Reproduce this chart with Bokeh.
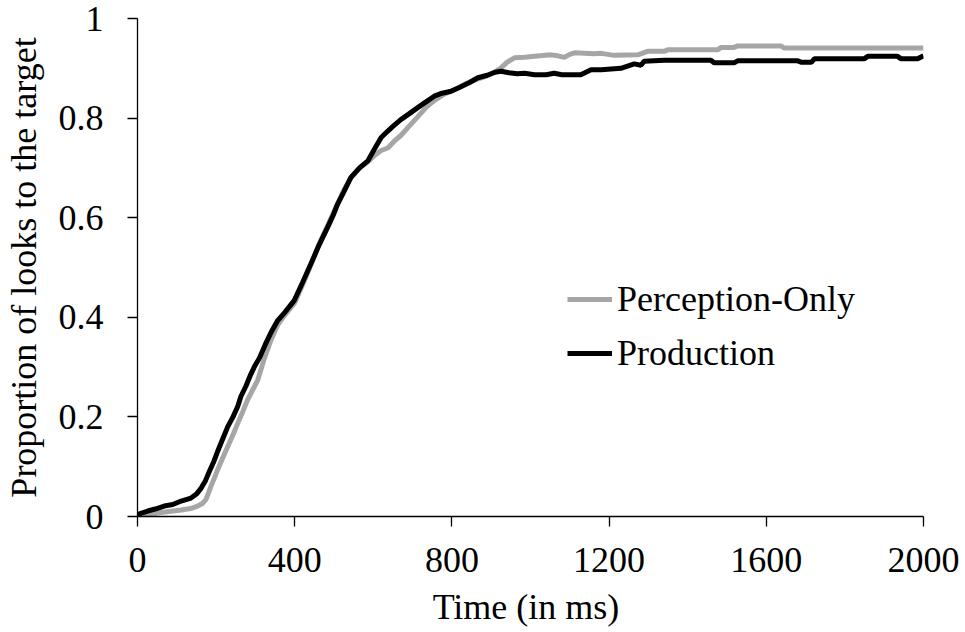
from bokeh.plotting import figure
from bokeh.models import Range1d, FixedTicker, CustomJSTickFormatter, Legend, LegendItem
from bokeh.embed import file_html
from bokeh.resources import INLINE

# Production (black)
prod_t = [0, 26, 45, 68, 90, 111, 136, 150, 162, 173, 183, 194, 204, 217, 230, 243, 255, 263, 276, 288,
          297, 310, 325, 340, 357, 375, 399, 420, 441, 462, 484, 498, 509, 525, 543, 565, 586, 603, 620, 637,
          652, 670, 690, 713, 735, 755, 775, 798, 820, 844, 866, 890, 910, 925, 945, 967, 985, 1010, 1040, 1060,
          1080, 1128, 1154, 1180, 1230, 1264, 1281, 1289, 1340, 1459, 1467, 1518, 1527, 1680, 1690, 1715, 1722,
          1849, 1858, 1934, 1943, 1985, 2000]
prod_v = [0.004, 0.011, 0.015, 0.021, 0.024, 0.031, 0.037, 0.045, 0.057, 0.072, 0.091, 0.110, 0.131, 0.156,
          0.181, 0.200, 0.221, 0.241, 0.262, 0.285, 0.300, 0.318, 0.345, 0.370, 0.394, 0.410, 0.434, 0.470,
          0.507, 0.545, 0.581, 0.605, 0.627, 0.652, 0.681, 0.700, 0.714, 0.738, 0.761, 0.774, 0.785, 0.797,
          0.808, 0.821, 0.833, 0.844, 0.850, 0.854, 0.862, 0.871, 0.881, 0.886, 0.892, 0.894, 0.891, 0.889,
          0.890, 0.887, 0.887, 0.890, 0.887, 0.887, 0.897, 0.897, 0.900, 0.909, 0.906, 0.914, 0.916, 0.916,
          0.911, 0.911, 0.915, 0.915, 0.912, 0.912, 0.919, 0.919, 0.924, 0.924, 0.919, 0.919, 0.925]

# Perception-Only (gray)
perc_t = [0, 30, 51, 80, 111, 135, 153, 165, 174, 181, 187, 196, 204, 217, 230, 243, 255, 268, 280, 293,
          306, 323, 340, 357, 375, 399, 420, 441, 462, 484, 509, 525, 543, 565, 586, 603, 620, 637, 655, 670,
          688, 710, 735, 755, 780, 800, 820, 840, 865, 890, 910, 925, 940, 959, 985, 1010, 1052, 1070, 1086,
          1100, 1112, 1162, 1180, 1213, 1273, 1298, 1340, 1349, 1476, 1485, 1518, 1527, 1637, 1645, 2000]
perc_v = [0.002, 0.004, 0.007, 0.010, 0.013, 0.016, 0.021, 0.026, 0.034, 0.048, 0.061, 0.078, 0.094, 0.118,
          0.141, 0.164, 0.187, 0.211, 0.234, 0.254, 0.274, 0.318, 0.355, 0.385, 0.405, 0.428, 0.465, 0.505,
          0.547, 0.585, 0.628, 0.655, 0.680, 0.700, 0.712, 0.725, 0.735, 0.740, 0.755, 0.765, 0.781, 0.800,
          0.822, 0.835, 0.848, 0.855, 0.862, 0.871, 0.878, 0.885, 0.893, 0.901, 0.912, 0.921, 0.922, 0.924,
          0.927, 0.925, 0.922, 0.928, 0.931, 0.929, 0.930, 0.926, 0.927, 0.934, 0.934, 0.937, 0.937, 0.942,
          0.942, 0.945, 0.945, 0.941, 0.941]

x_ticks = [0, 400, 800, 1200, 1600, 2000]
y_ticks = [0, 0.2, 0.4, 0.6, 0.8, 1.0]

FONT = "Liberation Serif"
FS = "36px"

p = figure(frame_width=786, frame_height=498, output_backend="svg", toolbar_location=None,
           x_range=Range1d(0, 2000), y_range=Range1d(0, 1),
           min_border_left=137, min_border_right=37, min_border_top=18, min_border_bottom=112)
p.outline_line_color = None
p.xgrid.visible = False
p.ygrid.visible = False
p.background_fill_color = "white"

gray = p.line(perc_t, perc_v, line_color="#A6A6A6", line_width=5)
black = p.line(prod_t, prod_v, line_color="black", line_width=5)

for ax in (p.xaxis[0], p.yaxis[0]):
    ax.axis_line_color = "black"
    ax.axis_line_width = 1.3
    ax.major_tick_line_color = "black"
    ax.major_tick_line_width = 1.3
    ax.major_tick_out = 10
    ax.major_tick_in = 0
    ax.minor_tick_line_color = None
    ax.major_label_text_font = FONT
    ax.major_label_text_font_size = FS
    ax.major_label_text_color = "black"
    ax.axis_label_text_font = FONT
    ax.axis_label_text_font_size = FS
    ax.axis_label_text_font_style = "normal"
    ax.axis_label_text_color = "black"

p.xaxis[0].ticker = FixedTicker(ticks=x_ticks)
p.yaxis[0].ticker = FixedTicker(ticks=y_ticks)
p.yaxis[0].formatter = CustomJSTickFormatter(code="return tick.toFixed(1).replace(/\\.0$/, '');")
p.xaxis[0].axis_label = "Time  (in ms)"
p.yaxis[0].axis_label = "Proportion of looks to the target"
p.xaxis[0].major_label_standoff = 21
p.yaxis[0].major_label_standoff = 24
p.xaxis[0].axis_label_standoff = 12
p.yaxis[0].axis_label_standoff = 12

legend = Legend(items=[LegendItem(label="Perception-Only", renderers=[gray]),
                       LegendItem(label="Production", renderers=[black])],
                location=(430, 136), orientation="vertical",
                glyph_width=45, glyph_height=54, label_height=54, label_standoff=5,
                spacing=0, padding=0, margin=0,
                border_line_color=None, background_fill_alpha=0,
                label_text_font=FONT, label_text_font_size=FS, label_text_color="black")
p.add_layout(legend, "center")

open("out.html", "w").write(file_html(p, INLINE))
